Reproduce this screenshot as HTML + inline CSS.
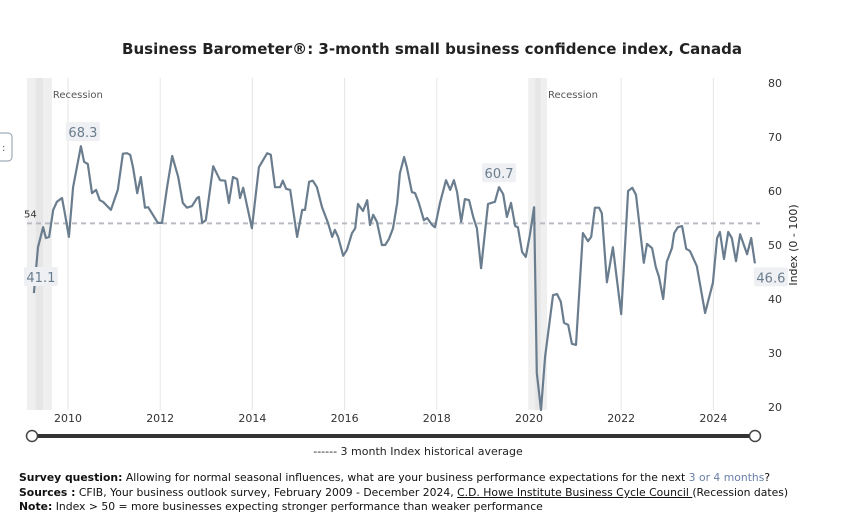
<!DOCTYPE html>
<html><head><meta charset="utf-8">
<style>
body{margin:0;background:#fff;width:851px;height:527px;overflow:hidden;font-family:"DejaVu Sans","Liberation Sans",sans-serif;}
svg text{font-family:"DejaVu Sans","Liberation Sans",sans-serif;}
.foot{position:absolute;left:19px;font-size:10.8px;color:#111;white-space:nowrap;line-height:14px;}
</style></head><body>
<svg id="chart" width="851" height="527" style="position:absolute;left:0;top:0">
<text x="432" y="54" text-anchor="middle" font-size="15" font-weight="bold" fill="#222" textLength="620" lengthAdjust="spacingAndGlyphs">Business Barometer®: 3-month small business confidence index, Canada</text>
<g id="grid"></g><g id="bands"></g><g id="ref"></g><g id="series"></g><g id="labels"></g><g id="axis"></g>
<rect x="-10" y="133" width="22" height="28" rx="4" fill="#fff" stroke="#8a99a8"/>
<text x="2" y="151" font-size="10" fill="#555">:</text>
<g>
<rect x="32" y="434" width="723" height="4" fill="#333"/>
<circle cx="32" cy="436" r="5.5" fill="#fff" stroke="#444" stroke-width="1.5"/>
<circle cx="755" cy="436" r="5.5" fill="#fff" stroke="#444" stroke-width="1.5"/>
</g>
<text x="418" y="455" text-anchor="middle" font-size="11" fill="#222">------ 3 month Index historical average</text>
<text transform="translate(797,245) rotate(-90)" text-anchor="middle" font-size="11" fill="#222">Index (0 - 100)</text>
</svg>
<div class="foot" style="top:471px"><b>Survey question:</b> Allowing for normal seasonal influences, what are your business performance expectations for the next <span style="color:#6a7fa8">3 or 4 months</span>?</div>
<div class="foot" style="top:486px"><b>Sources :</b> CFIB, Your business outlook survey, February 2009 - December 2024, <u>C.D. Howe Institute Business Cycle Council </u>(Recession dates)</div>
<div class="foot" style="top:500px"><b>Note:</b> Index &gt; 50 = more businesses expecting stronger performance than weaker performance</div>
<script>
const dates=[2009.26,2009.35,2009.46,2009.52,2009.59,2009.68,2009.76,2009.87,2009.93,2010.02,2010.11,2010.28,2010.35,2010.43,2010.52,2010.61,2010.69,2010.76,2010.93,2011.08,2011.19,2011.28,2011.35,2011.41,2011.50,2011.58,2011.67,2011.74,2011.95,2012.04,2012.15,2012.26,2012.39,2012.49,2012.58,2012.69,2012.80,2012.84,2012.91,2012.99,2013.15,2013.30,2013.41,2013.49,2013.58,2013.67,2013.73,2013.80,2013.99,2014.14,2014.32,2014.40,2014.49,2014.60,2014.66,2014.73,2014.82,2014.97,2015.08,2015.14,2015.23,2015.31,2015.40,2015.51,2015.64,2015.73,2015.79,2015.86,2015.97,2016.05,2016.16,2016.23,2016.29,2016.40,2016.49,2016.55,2016.62,2016.70,2016.81,2016.88,2016.96,2017.05,2017.14,2017.20,2017.29,2017.35,2017.46,2017.53,2017.61,2017.72,2017.79,2017.90,2017.96,2018.07,2018.20,2018.29,2018.37,2018.44,2018.53,2018.61,2018.70,2018.79,2018.87,2018.96,2019.11,2019.26,2019.35,2019.44,2019.52,2019.61,2019.70,2019.76,2019.85,2019.93,2020.02,2020.11,2020.17,2020.26,2020.35,2020.52,2020.61,2020.69,2020.76,2020.85,2020.93,2021.02,2021.17,2021.28,2021.35,2021.43,2021.52,2021.58,2021.69,2021.82,2022.00,2022.15,2022.24,2022.32,2022.49,2022.56,2022.67,2022.75,2022.82,2022.91,2022.99,2023.10,2023.15,2023.23,2023.32,2023.41,2023.49,2023.64,2023.82,2023.99,2024.08,2024.14,2024.23,2024.32,2024.40,2024.49,2024.58,2024.73,2024.82,2024.90];
const values=[41.1,49.6,53.3,51.3,51.5,56.5,58.0,58.7,55.9,51.5,60.7,68.3,65.4,65.0,59.6,60.2,58.3,58.0,56.5,60.2,66.9,67.0,66.7,64.4,59.6,62.6,56.9,57.0,54.1,54.1,60.7,66.5,62.6,57.8,56.9,57.2,58.7,58.9,54.1,54.6,64.6,62.0,61.9,57.8,62.6,62.2,58.7,60.6,53.1,64.4,67.0,66.7,60.7,60.7,61.9,60.4,60.2,51.5,56.5,56.5,61.7,61.9,60.7,57.0,54.1,51.5,52.8,51.5,48.0,49.1,52.2,53.1,57.6,56.3,58.3,53.7,55.6,54.3,50.0,50.0,51.1,53.1,57.8,63.3,66.3,64.4,59.8,59.6,57.8,54.6,55.0,53.7,53.3,57.8,62.0,60.2,62.0,59.8,54.3,58.5,58.3,55.2,53.1,45.7,57.6,58.0,60.7,59.4,55.2,57.8,53.5,53.3,48.7,47.8,51.9,57.0,26.3,19.0,29.3,40.7,40.9,39.5,35.6,35.2,31.7,31.5,52.2,50.7,51.5,56.9,56.9,55.9,43.1,49.6,37.2,60.0,60.6,59.3,46.7,50.2,49.4,45.9,44.1,40.0,46.9,49.4,52.2,53.3,53.5,49.3,48.9,46.1,37.4,43.0,51.3,52.4,47.4,52.4,51.3,47.0,52.0,48.3,51.3,46.6];
const xTicks=[2010,2012,2014,2016,2018,2020,2022,2024];
const yTicks=[20,30,40,50,60,70,80];
const historicalAverage=54;
const recessions=[[2008.95,2009.65],[2020.0,2020.39]];
const callouts=[[2010.28,68.3,"68.3"],[2009.26,41.1,"41.1"],[2019.35,60.7,"60.7"],[2024.90,46.6,"46.6"]];

const NS="http://www.w3.org/2000/svg";
const X0=27,X1=762,YT=78,YB=410;
const xs=yr=>68+(yr-2010)*46.1;
const ys=v=>83+(80-v)*5.4;
function mk(tag,attrs,parent,txt){const e=document.createElementNS(NS,tag);for(const k in attrs)e.setAttribute(k,attrs[k]);if(txt!==undefined)e.textContent=txt;document.getElementById(parent).appendChild(e);return e;}
xTicks.forEach(t=>{
  const l=mk('line',{x1:xs(t),x2:xs(t),y1:YT,y2:YB,stroke:'#e6e6e6','stroke-width':1},'grid');
  
  
  const tx=mk('text',{x:xs(t),y:422,'text-anchor':'middle','font-size':11,fill:'#333'},'axis',String(t));
  
  
});
yTicks.forEach(t=>{
  const tx=mk('text',{x:768,y:ys(t)+4,'font-size':11,fill:'#333'},'axis',String(t));
  
  
});
recessions.forEach(r=>{
  const a=Math.max(X0,xs(r[0])),b=xs(r[1]);
  const bd=mk('rect',{x:a,y:YT,width:b-a,height:YB-YT,fill:'#efefef'},'bands');
  
  
  mk('rect',{x:a+(b-a)*0.35,y:YT,width:(b-a)*0.3,height:YB-YT,fill:'#e6e6e6'},'bands');
  const tx=mk('text',{x:b+1,y:98,'font-size':10,fill:'#555'},'labels','Recession');
  
  
});
const rl=mk('line',{x1:X0,x2:760,y1:ys(historicalAverage),y2:ys(historicalAverage),stroke:'#b8bcc2','stroke-width':2,'stroke-dasharray':'5,4'},'ref');


const rlt=mk('text',{x:24,y:ys(historicalAverage)-6,'font-size':10,fill:'#333'},'labels',String(historicalAverage));


const pts=dates.map((d,i)=>xs(d).toFixed(1)+','+Math.min(YB,ys(values[i])).toFixed(1)).join(' ');
const pl=mk('polyline',{points:pts,fill:'none',stroke:'#6a7d8e','stroke-width':2.2,'stroke-linejoin':'round'},'series');


callouts.forEach((c,i)=>{
  let cx=xs(c[0]),cy=ys(c[1]);
  let bx,by;
  if(i===0){bx=cx+2;by=cy-14;}else if(i===1){bx=cx+7;by=cy-16;}else if(i===2){bx=cx;by=cy-14;}else{bx=cx+16;by=cy+14;}
  const r=mk('rect',{x:bx-17,y:by-10,width:34,height:19,rx:2,fill:'#eef0f3'},'labels');
  
  
  const t=mk('text',{x:bx,y:by+5,'text-anchor':'middle','font-size':13,fill:'#6a7d8e'},'labels',c[2]);
  
  
});
</script>
</body></html>
